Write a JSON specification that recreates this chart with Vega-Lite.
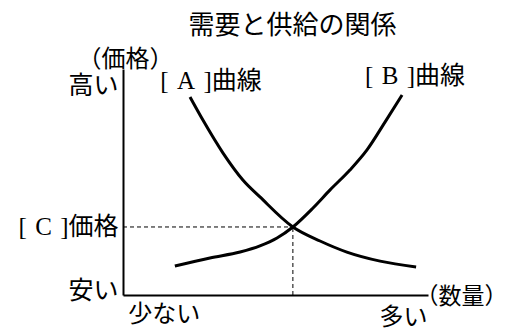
{
  "$schema": "https://vega.github.io/schema/vega-lite/v6.json",
  "autosize": "none",
  "width": 305,
  "height": 226,
  "padding": {"left": 123, "top": 69, "right": 79, "bottom": 34},
  "background": "white",
  "config": {
    "view": {"stroke": null},
    "font": "Noto Sans CJK JP",
    "axis": {"grid": false, "ticks": false, "domainColor": "black", "domainWidth": 2, "labelColor": "black", "titleColor": "black", "labelOverlap": false, "labelBound": false, "labelFlush": false}
  },
  "title": {"text": "需要と供給の関係", "fontSize": 26, "fontWeight": "normal", "color": "black", "anchor": "middle", "dx": 17, "offset": 8, "font": "Noto Sans CJK JP"},
  "datasets": {
    "curves": [
      {"curve": "A", "q": 21.97, "p": 87.6},
      {"curve": "A", "q": 26.2, "p": 77.4},
      {"curve": "A", "q": 32.8, "p": 62.8},
      {"curve": "A", "q": 39.3, "p": 50.9},
      {"curve": "A", "q": 44.9, "p": 43.4},
      {"curve": "A", "q": 55.7, "p": 30.1},
      {"curve": "A", "q": 64.6, "p": 23.9},
      {"curve": "A", "q": 73.4, "p": 19.0},
      {"curve": "A", "q": 84.3, "p": 15.0},
      {"curve": "A", "q": 96.1, "p": 12.4},
      {"curve": "B", "q": 17.0, "p": 12.8},
      {"curve": "B", "q": 28.5, "p": 16.4},
      {"curve": "B", "q": 38.4, "p": 19.0},
      {"curve": "B", "q": 44.9, "p": 21.7},
      {"curve": "B", "q": 50.5, "p": 25.2},
      {"curve": "B", "q": 55.7, "p": 30.1},
      {"curve": "B", "q": 62.3, "p": 38.5},
      {"curve": "B", "q": 67.9, "p": 46.5},
      {"curve": "B", "q": 74.4, "p": 55.3},
      {"curve": "B", "q": 80.0, "p": 64.2},
      {"curve": "B", "q": 85.9, "p": 76.5},
      {"curve": "B", "q": 91.5, "p": 88.5}
    ],
    "equilibrium": [{"q": 55.7, "p": 30.1, "q0": 0, "p0": 0}]
  },
  "layer": [
    {
      "data": {"name": "curves"},
      "mark": {"type": "line", "color": "black", "strokeWidth": 3, "interpolate": "monotone"},
      "encoding": {
        "x": {"field": "q", "type": "quantitative", "scale": {"domain": [0, 100]},
          "axis": {"values": [13.4, 91.8], "labelExpr": "datum.value < 50 ? '少ない' : '多い'", "labelFontSize": 24, "labelFont": "Noto Sans CJK JP",
            "labelPadding": {"condition": {"test": "datum.value > 50", "value": 10}, "value": 7},
            "labelBaseline": "top",
            "title": "（数量）", "titleFontSize": 23, "titleFontWeight": "normal", "titleX": 338, "titleY": 1, "titleAlign": "center", "titleBaseline": "middle", "titleFont": "Noto Sans CJK JP"}},
        "y": {"field": "p", "type": "quantitative", "scale": {"domain": [0, 100]},
          "axis": {"values": [2.2, 30.1, 92.5], "labelExpr": "datum.value > 80 ? '高い\u2009' : (datum.value > 10 ? '[\u2004C\u2004]価格' : '安い')", "labelFontSize": 25, "labelFont": "Liberation Serif, Noto Sans CJK JP", "labelPadding": 5, "labelBaseline": "middle",
            "title": "（価格）", "titleFontSize": 24, "titleFontWeight": "normal", "titleAngle": 0, "titleX": 2, "titleY": -10, "titleAlign": "center", "titleBaseline": "middle", "titleFont": "Noto Sans CJK JP"}},
        "detail": {"field": "curve"}
      }
    },
    {
      "data": {"name": "equilibrium"},
      "mark": {"type": "rule", "color": "black", "strokeWidth": 1, "strokeDash": [4, 3]},
      "encoding": {
        "x": {"field": "q0", "type": "quantitative"},
        "x2": {"field": "q"},
        "y": {"field": "p", "type": "quantitative"}
      }
    },
    {
      "data": {"name": "equilibrium"},
      "mark": {"type": "rule", "color": "black", "strokeWidth": 1, "strokeDash": [4, 3]},
      "encoding": {
        "x": {"field": "q", "type": "quantitative"},
        "y": {"field": "p0", "type": "quantitative"},
        "y2": {"field": "p"}
      }
    },
    {
      "data": {"name": "curves"},
      "transform": [{"filter": "datum.curve == 'A' && datum.p > 85"}, {"calculate": "'[\u2004' + datum.curve + '\u2004]曲線'", "as": "label"}],
      "mark": {"type": "text", "fontSize": 25, "font": "Liberation Serif, Noto Sans CJK JP", "color": "black", "align": "center", "baseline": "middle", "dx": 21, "dy": -16},
      "encoding": {
        "x": {"field": "q", "type": "quantitative"},
        "y": {"field": "p", "type": "quantitative"},
        "text": {"field": "label"}
      }
    },
    {
      "data": {"name": "curves"},
      "transform": [{"filter": "datum.curve == 'B' && datum.p > 85"}, {"calculate": "'[\u2004' + datum.curve + '\u2004]曲線'", "as": "label"}],
      "mark": {"type": "text", "fontSize": 25, "font": "Liberation Serif, Noto Sans CJK JP", "color": "black", "align": "center", "baseline": "middle", "dx": 13, "dy": -19},
      "encoding": {
        "x": {"field": "q", "type": "quantitative"},
        "y": {"field": "p", "type": "quantitative"},
        "text": {"field": "label"}
      }
    }
  ]
}
